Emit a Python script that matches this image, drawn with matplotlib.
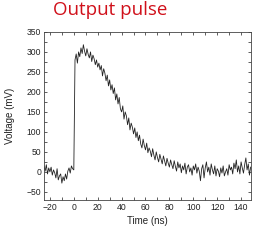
import matplotlib

matplotlib.use("Agg")
import matplotlib.pyplot as plt
import numpy as np
from matplotlib.ticker import MultipleLocator

# --- data (1 ns samples) --------------------------------------------------
pre_pulse = [
    15, 2, 18, -5, 10, 0, 12, -8, 5, -2, -15, 8, -20,
    -10, -5, -28, -12, -22, -5, -18, 2, 10, -3, 15, 8, 5,
]  # t = -25 .. 0
pulse = [
    280, 295, 272, 300, 288, 310, 296, 318, 302, 290,
    308, 294, 285, 300, 276, 292, 283, 268, 280, 262,
    272, 255, 266, 240, 258, 247, 228, 242, 215, 230,
    205, 218, 196, 210, 180, 195, 170, 186, 158, 150,
    165, 132, 150, 140, 118, 135, 105, 122, 112, 95,
    110, 86, 100, 78, 92, 70, 60, 82, 66, 55,
    72, 48, 60, 52, 38, 58, 42, 30, 50, 36,
    25, 44, 32, 20, 40, 28, 15, 34, 22, 12,
    30, 18, 8, 28, 14, 2, 25, 10, 20, -2,
    15, 5, 22, -5, 12, 18, 0, 10, -8, 15,
    5, 20, -3, 12, 2, -22, 8, 18, -15, 10,
    25, 0, 12, -8, 20, 5, -5, 15, -10, 8,
    2, -12, 10, -3, 15, -10, 0, 8, -8, 18,
    5, 12, -5, 22, 8, 30, 0, 15, -5, 25,
    10, -3, 18, 35, 5, 20, -8, 12,
]  # t = 1 .. 148
voltage = pre_pulse + pulse
time_ns = np.arange(-25, -25 + len(voltage))

TITLE = "Output pulse"
TITLE_COLOR = "#d0101a"
TRACE_COLOR = "#222222"
AXIS_FONT = "Liberation Sans"

fig = plt.figure(figsize=(2.6, 2.4), dpi=100)
ax = fig.add_axes([0.169, 0.167, 0.795, 0.70])

ax.plot(time_ns, voltage, color=TRACE_COLOR, linewidth=0.6)

ax.set_xlim(-25, 148)
ax.set_ylim(-70, 350)
ax.xaxis.set_major_locator(MultipleLocator(20))
ax.xaxis.set_minor_locator(MultipleLocator(10))
ax.yaxis.set_major_locator(MultipleLocator(50))
ax.yaxis.set_minor_locator(MultipleLocator(25))
ax.tick_params(which="both", direction="in", top=True, right=True,
               length=2, width=0.6, labelsize=6.2, pad=2,
               labelfontfamily=AXIS_FONT, color="#444444",
               labelcolor="#222222")
for s in ax.spines.values():
    s.set_linewidth(0.6)
    s.set_color("#444444")

ax.set_xlabel("Time (ns)", fontsize=7, family=AXIS_FONT, labelpad=3,
              color="#222222")
ax.set_ylabel("Voltage (mV)", fontsize=7, family=AXIS_FONT, labelpad=8,
              color="#222222")

fig.text(110 / 260, 1 - 10 / 240, TITLE, color=TITLE_COLOR, fontsize=13.5,
         family="Open Sans", ha="center", va="center")

fig.savefig("out.png", dpi=100)
